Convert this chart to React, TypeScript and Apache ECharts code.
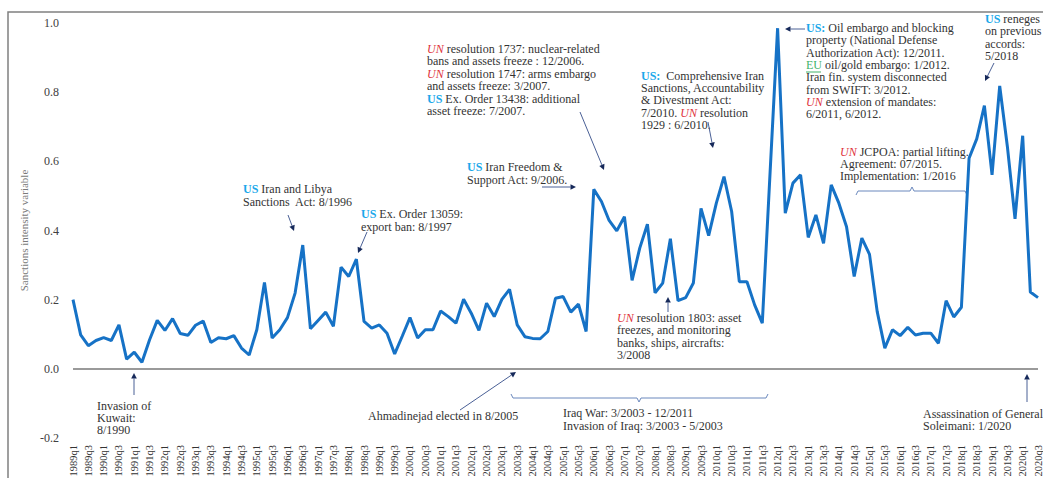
import React, { useEffect, useRef } from "react";
import * as echarts from "echarts";

const SERIF = '"Liberation Serif","Times New Roman",serif';

// Quarterly categories 1989q1 .. 2020q3
const firstYear = 1989;
const lastYear = 2020;
const lastQuarter = 3;
const quarters: string[] = [];
for (let y = firstYear; y <= lastYear; y++) {
  for (let q = 1; q <= 4; q++) {
    if (y === lastYear && q > lastQuarter) break;
    quarters.push(`${y}q${q}`);
  }
}

// Sanctions intensity values
const values1989to1995 = [
  0.2, 0.098, 0.067, 0.082, 0.09, 0.082, 0.127, 0.028, 0.048, 0.019, 0.084, 0.14,
  0.111, 0.145, 0.102, 0.097, 0.126, 0.138, 0.076, 0.09, 0.087, 0.096, 0.06, 0.04,
  0.113, 0.25, 0.089, 0.113,
];
const values1996to2002 = [
  0.148, 0.219, 0.358, 0.116, 0.14, 0.164, 0.123, 0.294, 0.267, 0.317, 0.137, 0.118,
  0.127, 0.103, 0.043, 0.095, 0.148, 0.089, 0.113, 0.113, 0.167, 0.151, 0.132, 0.201,
  0.161, 0.111, 0.19, 0.151,
];
const values2003to2009 = [
  0.201, 0.23, 0.127, 0.093, 0.088, 0.087, 0.108, 0.204, 0.209, 0.164, 0.187, 0.108,
  0.519, 0.484, 0.429, 0.399, 0.44, 0.256, 0.349, 0.418, 0.22, 0.248, 0.376, 0.197,
  0.206, 0.248, 0.464, 0.385,
];
const values2010to2016 = [
  0.479, 0.556, 0.455, 0.252, 0.252, 0.185, 0.132, 0.56, 0.985, 0.45, 0.537, 0.561,
  0.38, 0.445, 0.363, 0.532, 0.479, 0.411, 0.267, 0.378, 0.331, 0.166, 0.06, 0.113,
  0.096, 0.12, 0.098, 0.103,
];
const values2017to2020 = [
  0.103, 0.074, 0.197, 0.15, 0.178, 0.609, 0.665, 0.761, 0.561, 0.818, 0.643, 0.434,
  0.674, 0.222, 0.206,
];
const sanctionsIntensity = [
  ...values1989to1995,
  ...values1996to2002,
  ...values2003to2009,
  ...values2010to2016,
  ...values2017to2020,
];

const yMin = -0.2;
const yMax = 1.0;
const yStep = 0.2;

type Note = { x: number; y: number; lh: number; lines: string[] };
const notes: Note[] = [
  { x: 243, y: 189, lh: 12.5, lines: ["{us|US} Iran and Libya", "Sanctions  Act: 8/1996"] },
  { x: 361, y: 214, lh: 12.8, lines: ["{us|US} Ex. Order 13059:", "export ban: 8/1997"] },
  {
    x: 427, y: 49, lh: 12.4,
    lines: [
      "{un|UN} resolution 1737: nuclear-related",
      "bans and assets freeze : 12/2006.",
      "{un|UN} resolution 1747: arms embargo",
      "and assets freeze: 3/2007.",
      "{us|US} Ex. Order 13438: additional",
      "asset freeze: 7/2007.",
    ],
  },
  { x: 467, y: 167, lh: 12.7, lines: ["{us|US} Iran Freedom &", "Support Act: 9/2006."] },
  {
    x: 641, y: 76, lh: 12.2,
    lines: [
      "{us|US:}  Comprehensive Iran",
      "Sanctions, Accountability",
      "& Divestment Act:",
      "7/2010. {un|UN} resolution",
      "1929 : 6/2010.",
    ],
  },
  {
    x: 806, y: 28, lh: 12.3,
    lines: [
      "{us|US:} Oil embargo and blocking",
      "property (National Defense",
      "Authorization Act): 12/2011.",
      "{eu|EU} oil/gold embargo: 1/2012.",
      "Iran fin. system disconnected",
      "from SWIFT: 3/2012.",
      "{un|UN} extension of mandates:",
      "6/2011, 6/2012.",
    ],
  },
  {
    x: 840, y: 152, lh: 12,
    lines: ["{un|UN} JCPOA: partial lifting.", "Agreement: 07/2015.", "Implementation: 1/2016"],
  },
  { x: 985, y: 19, lh: 12.3, lines: ["{us|US} reneges", "on previous", "accords:", "5/2018"] },
  {
    x: 617, y: 318, lh: 12.3,
    lines: ["{un|UN} resolution 1803: asset", "freezes, and monitoring", "banks, ships, aircrafts:", "3/2008"],
  },
  { x: 97, y: 406, lh: 12, lines: ["Invasion of", "Kuwait:", "8/1990"] },
  { x: 368, y: 416, lh: 12, lines: ["Ahmadinejad elected in 8/2005"] },
  { x: 563, y: 413, lh: 12.5, lines: ["Iraq War: 3/2003 - 12/2011", "Invasion of Iraq: 3/2003 - 5/2003"] },
  { x: 923, y: 414, lh: 12, lines: ["Assassination of General", "Soleimani: 1/2020"] },
];

const arrows: [number, number, number, number][] = [
  [288, 215, 294, 231],
  [367, 232, 358, 253],
  [580, 112, 604, 170],
  [542, 187, 576, 187],
  [708, 122, 713, 148],
  [805, 29, 785, 29],
  [994, 63, 985, 81],
  [668, 312, 668, 297],
  [134, 395, 134, 373],
  [460, 410, 516, 372],
  [1027, 402, 1027, 374],
];

const rich = {
  us: { fill: "#1aa8ea", fontWeight: "bold", fontFamily: SERIF, fontSize: 12 },
  un: { fill: "#e0343c", fontStyle: "italic", fontFamily: SERIF, fontSize: 12 },
  eu: { fill: "#43b36a", fontFamily: SERIF, fontSize: 12 },
};

function arrowEls(x1: number, y1: number, x2: number, y2: number) {
  const dx = x2 - x1;
  const dy = y2 - y1;
  const len = Math.hypot(dx, dy);
  const ux = dx / len;
  const uy = dy / len;
  const hl = 5.5;
  const hw = 2.8;
  const bx = x2 - ux * hl;
  const by = y2 - uy * hl;
  const px = -uy;
  const py = ux;
  return [
    {
      type: "line",
      silent: true,
      shape: { x1, y1, x2: bx, y2: by },
      style: { stroke: "#4a6096", lineWidth: 1 },
    },
    {
      type: "polygon",
      silent: true,
      shape: {
        points: [
          [x2, y2],
          [bx + px * hw, by + py * hw],
          [bx - px * hw, by - py * hw],
        ],
      },
      style: { fill: "#16295a" },
    },
  ];
}

function buildGraphics() {
  const els: any[] = [];
  els.push({
    type: "rect",
    silent: true,
    z: 0,
    shape: { x: 8, y: 12, width: 1200, height: 700 },
    style: { fill: "none", stroke: "#808080", lineWidth: 1.5 },
  });
  notes.forEach((n) => {
    n.lines.forEach((line, i) => {
      els.push({
        type: "text",
        silent: true,
        x: n.x,
        y: n.y + i * n.lh,
        style: {
          text: line,
          rich,
          fill: "#333333",
          fontFamily: SERIF,
          fontSize: 12,
          align: "left",
          textAlign: "left",
          verticalAlign: "middle",
          textVerticalAlign: "middle",
        },
      });
    });
  });
  // EU underline
  els.push({
    type: "line",
    silent: true,
    shape: { x1: 806, y1: 72, x2: 821, y2: 72 },
    style: { stroke: "#43b36a", lineWidth: 1 },
  });
  arrows.forEach(([a, b, c, d]) => els.push(...arrowEls(a, b, c, d)));
  // JCPOA brace
  els.push({
    type: "polyline",
    silent: true,
    shape: {
      points: [
        [856, 195], [858, 191], [910, 191], [912, 187], [914, 191], [965, 191], [967, 195],
      ],
    },
    style: { stroke: "#6a88bd", lineWidth: 1, fill: "none" },
  });
  // Iraq war brace
  els.push({
    type: "polyline",
    silent: true,
    shape: {
      points: [
        [511, 394], [513, 398], [637, 398], [639, 402], [641, 398], [766, 398], [768, 394],
      ],
    },
    style: { stroke: "#6a88bd", lineWidth: 1, fill: "none" },
  });
  return els;
}

export default function App() {
  const ref = useRef<HTMLDivElement>(null);
  useEffect(() => {
    document.body.style.margin = "0";
    if (!ref.current) return;
    const chart = echarts.init(ref.current, undefined, { renderer: "svg" });
    chart.setOption({
      animation: false,
      backgroundColor: "#ffffff",
      grid: { left: 73, right: 5, top: 23, bottom: 40, outerBoundsMode: "none", containLabel: false },
      xAxis: {
        type: "category",
        data: quarters,
        boundaryGap: false,
        axisLine: { show: false },
        axisTick: { show: false },
        splitLine: { show: false },
        axisLabel: {
          rotate: 90,
          interval: 1,
          fontSize: 10.5,
          fontFamily: SERIF,
          color: "#333333",
          margin: 7,
        },
      },
      yAxis: {
        type: "value",
        min: yMin,
        max: yMax,
        interval: yStep,
        name: "Sanctions intensity variable",
        nameLocation: "middle",
        nameGap: 43,
        nameTextStyle: { fontFamily: SERIF, fontSize: 11, color: "#7a7a7a" },
        axisLine: { show: false },
        axisTick: { show: false },
        splitLine: { show: false },
        axisLabel: {
          fontFamily: SERIF,
          fontSize: 12,
          color: "#404040",
          margin: 14,
          formatter: (v: number) => v.toFixed(1),
        },
      },
      series: [
        {
          type: "line",
          data: sanctionsIntensity,
          symbol: "none",
          lineStyle: { color: "#1672c6", width: 3 },
          z: 3,
          markLine: {
            silent: true,
            symbol: ["none", "none"],
            label: { show: false },
            lineStyle: { color: "#9a9a9a", width: 2, type: "solid" },
            data: [{ yAxis: 0 }],
            z: 1,
          },
        },
      ],
      graphic: { elements: buildGraphics() },
    });
    return () => chart.dispose();
  }, []);
  return (
    <div
      ref={ref}
      style={{ position: "absolute", left: 0, top: 0, width: 1043, height: 478 }}
    />
  );
}
